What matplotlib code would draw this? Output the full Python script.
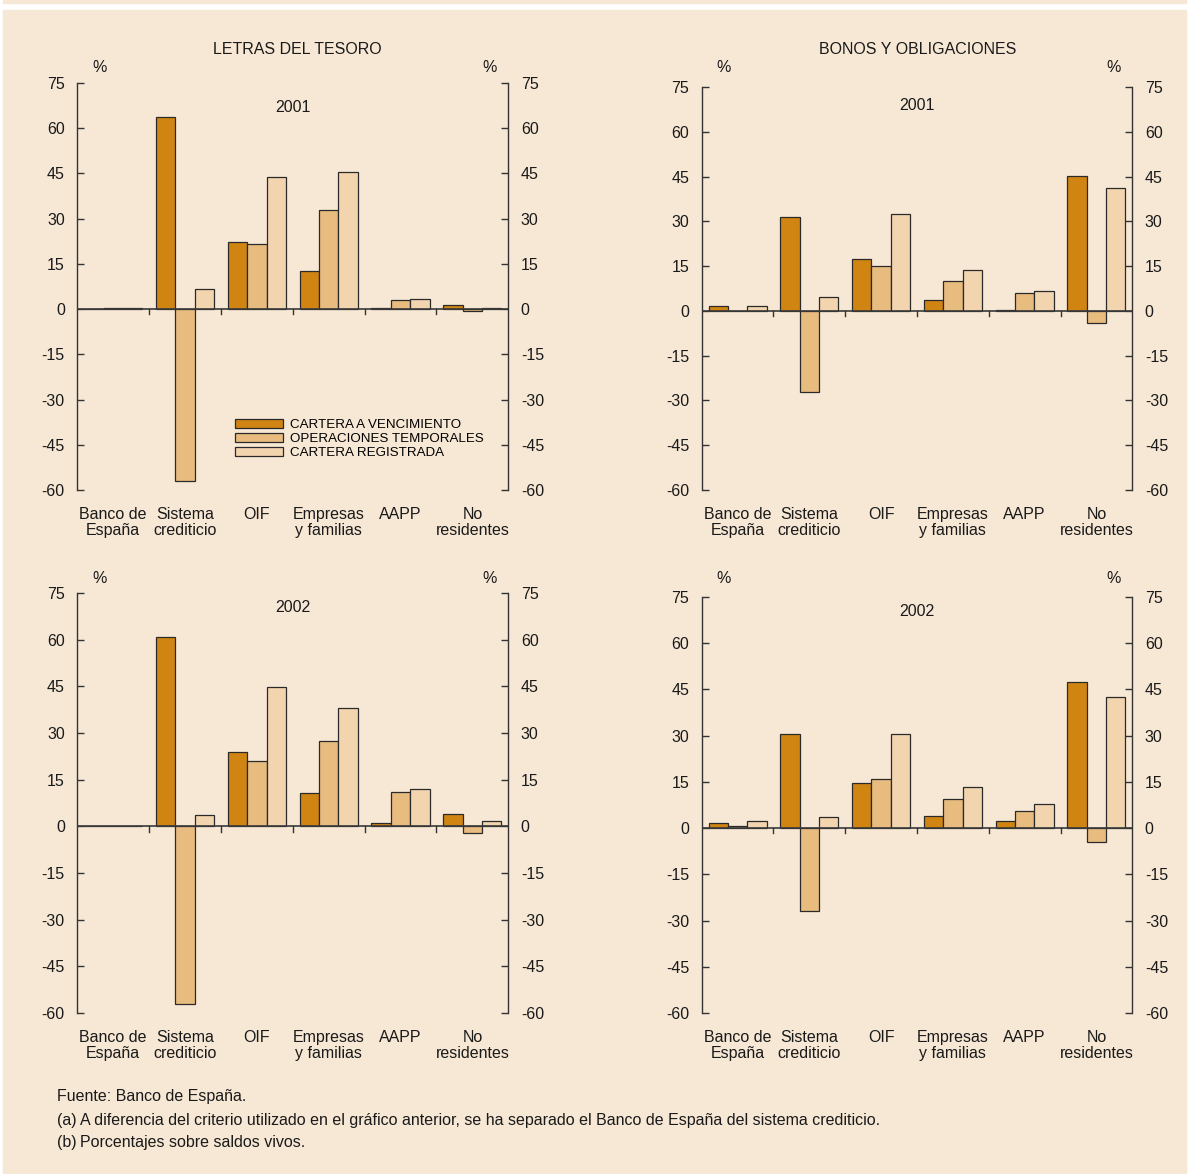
import matplotlib
matplotlib.use('Agg')
import matplotlib.pyplot as plt
import numpy as np
from matplotlib.patches import Rectangle

W, H = 1189, 1174
plt.rcParams['font.family'] = ['Liberation Sans', 'DejaVu Sans']
plt.rcParams['axes.unicode_minus'] = False

categories = ['Banco de\nEspaña', 'Sistema\ncrediticio', 'OIF',
              'Empresas\ny familias', 'AAPP', 'No\nresidentes']
series = ['CARTERA A VENCIMIENTO', 'OPERACIONES TEMPORALES', 'CARTERA REGISTRADA']
colors = ['#D08512', '#E8BB7F', '#F2D4AF']

# letras del tesoro
letras_2001_cv = [0.0, 63.7, 22.1, 12.5, 0.4, 1.3]
letras_2001_ot = [0.5, -57.1, 21.6, 32.9, 3.0, -0.6]
letras_2001_cr = [0.5, 6.7, 43.7, 45.5, 3.3, 0.5]
letras_2002_cv = [0.0, 61.0, 23.8, 10.7, 1.2, 3.9]
letras_2002_ot = [0.2, -57.1, 21.0, 27.5, 10.9, -2.1]
letras_2002_cr = [0.2, 3.8, 44.9, 38.1, 12.0, 1.8]

# bonos y obligaciones
bonos_2001_cv = [1.5, 31.4, 17.3, 3.6, 0.4, 45.2]
bonos_2001_ot = [0.0, -27.1, 15.0, 10.1, 6.0, -4.1]
bonos_2001_cr = [1.5, 4.5, 32.3, 13.7, 6.5, 41.1]
bonos_2002_cv = [1.7, 30.4, 14.6, 3.8, 2.4, 47.4]
bonos_2002_ot = [0.6, -26.9, 15.9, 9.3, 5.6, -4.4]
bonos_2002_cr = [2.4, 3.6, 30.6, 13.2, 7.9, 42.7]

yticks = [-60, -45, -30, -15, 0, 15, 30, 45, 60, 75]

fig = plt.figure(figsize=(W / 100, H / 100), dpi=100)
fig.patch.set_facecolor('white')
bg = '#F7E8D5'
fig.patches.append(Rectangle((3 / W, 0), (W - 6) / W, (H - 10) / H,
                             transform=fig.transFigure, color=bg, zorder=-10))
fig.patches.append(Rectangle((3 / W, (H - 3) / H), (W - 6) / W, 3 / H,
                             transform=fig.transFigure, color=bg, zorder=-10))

TXT = '#1a1a1a'


def px_axes(x0, x1, y0, y1):
    return fig.add_axes([x0 / W, 1 - y1 / H, (x1 - x0) / W, (y1 - y0) / H])


def ftext(x, y, s, **kw):
    kw.setdefault('color', TXT)
    kw.setdefault('fontsize', 11.5)
    return fig.text(x / W, 1 - y / H, s, **kw)


def panel(ax, data, year, year_y, pct_y, legend=False):
    x = np.arange(len(categories))
    w = 0.27
    bars = []
    for k, vals in enumerate(data):
        b = ax.bar(x + (k - 1) * w, vals, w, color=colors[k],
                   edgecolor='#2a2a2a', linewidth=0.9, zorder=3)
        bars.append(b)
    ax.set_xlim(-0.5, len(categories) - 0.5)
    ax.set_ylim(-60, 75)
    ax.set_facecolor('none')
    for s in ['top', 'bottom']:
        ax.spines[s].set_visible(False)
    for s in ['left', 'right']:
        ax.spines[s].set_color('#333333')
        ax.spines[s].set_linewidth(1.0)
    ax.axhline(0, color='#3a3a3a', linewidth=1.2, zorder=4)
    ax.set_yticks(yticks)
    ax.tick_params(axis='y', direction='in', length=5, width=1, color='#333333',
                   left=True, right=True, labelleft=True, labelright=True,
                   labelsize=11.5, pad=9, labelcolor=TXT)
    ax.set_xticks([])
    # group separators below the zero line
    for b in np.arange(0.5, len(categories) - 0.5, 1.0):
        ax.plot([b, b], [0, -1.7], color='#333333', linewidth=1, zorder=4,
                clip_on=False)
    for i, c in enumerate(categories):
        ax.annotate(c, xy=(i, 0), xycoords=('data', 'axes fraction'),
                    xytext=(0, -17), textcoords='offset pixels',
                    ha='center', va='top', fontsize=11.5, linespacing=1.07,
                    color=TXT)
    pos = ax.get_position()
    xl, xr = pos.x0 * W, pos.x1 * W
    ftext((xl + xr) / 2, year_y, year, ha='center', va='center')
    ftext(xl + 22, pct_y, '%', ha='center', va='center')
    ftext(xr - 19, pct_y, '%', ha='center', va='center')
    if legend:
        ax.legend(bars, series, loc='upper left',
                  bbox_to_anchor=(235 / W, 1 - 419 / H),
                  bbox_transform=fig.transFigure, frameon=False,
                  fontsize=9.6, handlelength=3.6, handleheight=0.6,
                  handletextpad=0.55, labelspacing=0.15, borderpad=0,
                  borderaxespad=0)


ax1 = px_axes(77.3, 508.3, 83, 490)
ax2 = px_axes(701.7, 1132.3, 87, 490)
ax3 = px_axes(77.3, 508.3, 593, 1013)
ax4 = px_axes(701.7, 1132.3, 597, 1013)

panel(ax1, [letras_2001_cv, letras_2001_ot, letras_2001_cr], '2001', 107, 68,
      legend=True)
panel(ax2, [bonos_2001_cv, bonos_2001_ot, bonos_2001_cr], '2001', 105, 67)
panel(ax3, [letras_2002_cv, letras_2002_ot, letras_2002_cr], '2002', 608, 578)
panel(ax4, [bonos_2002_cv, bonos_2002_ot, bonos_2002_cr], '2002', 612, 578)

ftext(297, 50, 'LETRAS DEL TESORO', ha='center', va='center')
ftext(918, 50, 'BONOS Y OBLIGACIONES', ha='center', va='center')

ftext(57, 1097, 'Fuente: Banco de España.', ha='left', va='center')
ftext(57, 1120, '(a)', ha='left', va='center')
ftext(80, 1120,
      'A diferencia del criterio utilizado en el gráfico anterior, se ha '
      'separado el Banco de España del sistema crediticio.',
      ha='left', va='center')
ftext(57, 1143, '(b)', ha='left', va='center')
ftext(80, 1143, 'Porcentajes sobre saldos vivos.', ha='left', va='center')

fig.savefig('out.png', dpi=100)
